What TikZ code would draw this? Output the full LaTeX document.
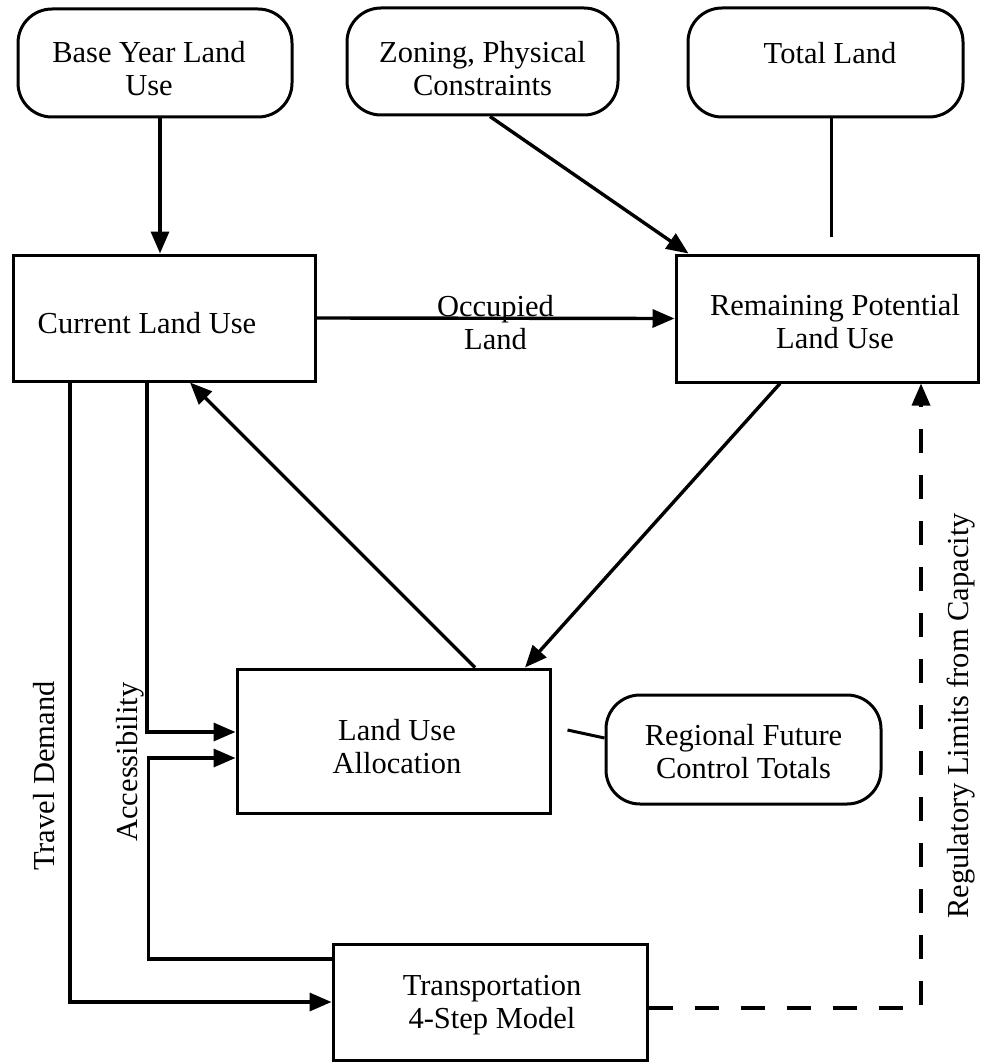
\documentclass[tikz,border=0pt]{standalone}
\usepackage{fontspec}
\setmainfont{Liberation Serif}
\usetikzlibrary{arrows.meta}
\begin{document}
\begin{tikzpicture}[x=1pt,y=-1pt,
  every node/.style={font=\fontsize{30.5}{33}\selectfont, align=center},
  rbox/.style={draw, line width=3pt, rounded corners=34pt, inner sep=0pt},
  sbox/.style={draw, line width=3pt, inner sep=0pt},
  arr/.style={line width=3.4pt, -{Triangle[length=22pt,width=18pt]}},
  plainline/.style={line width=3pt},
  dasharr/.style={line width=3.4pt, dash pattern=on 24pt off 22pt, -{Triangle[length=22pt,width=18pt]}},
  vlabel/.style={rotate=90, inner sep=0pt}
]
\useasboundingbox (0,0) rectangle (986,1062);

% boxes
\node[rbox, minimum width=274pt, minimum height=108pt,
  label={[xshift=-6pt,yshift=-6pt]center:{Base Year Land\\Use}}] (base) at (155,63) {};
\node[rbox, minimum width=271pt, minimum height=107pt,
  label={[xshift=0pt,yshift=-7pt]center:{Zoning, Physical\\Constraints}}] (zoning) at (482.5,61.5) {};
\node[rbox, minimum width=275pt, minimum height=109pt,
  label={[xshift=4.5pt,yshift=9.5pt]center:{Total Land}}] (total) at (825.5,62.5) {};

\node[sbox, minimum width=302pt, minimum height=126pt,
  label={[xshift=-17pt,yshift=-5pt]center:{Current Land Use}}] (current) at (164,318) {};
\node[sbox, minimum width=302pt, minimum height=127pt,
  label={[xshift=8pt,yshift=-3.5pt]center:{Remaining Potential\\Land Use}}] (remain) at (827,318.5) {};

\node[sbox, minimum width=313pt, minimum height=144pt,
  label={[xshift=3.5pt,yshift=-6pt]center:{Land Use\\Allocation}}] (lua) at (393.5,741) {};
\node[rbox, minimum width=275pt, minimum height=109pt,
  label={[xshift=0pt,yshift=-2.5pt]center:{Regional Future\\Control Totals}}] (regional) at (743.5,749.5) {};

\node[sbox, minimum width=314pt, minimum height=116pt,
  label={[xshift=2pt,yshift=-3pt]center:{Transportation\\4-Step Model}}] (transp) at (490,1002) {};

% rotated labels
\node[vlabel] (tdlabel) at (44,776) {Travel Demand};
\node[vlabel] (acclabel) at (130,762) {Accessibility};
\node[vlabel] (reglabel) at (961,716) {Regulatory Limits from Capacity};

% connectors
\draw[arr] ([xshift=5pt]base.south) -- ([xshift=-4pt]current.north);
\draw[arr] ([xshift=7.5pt]zoning.south) -- ([xshift=14pt]remain.north west);
\coordinate (totalend) at (831,237);
\draw[plainline] ([xshift=5.5pt]total.south) -- (totalend);

\draw[arr] (current.east) -- node[yshift=-4pt, inner sep=0pt] (occ) {Occupied\\Land} (remain.west);

\draw[arr] ([xshift=81.5pt]lua.north) -- ([xshift=26pt]current.south);
\draw[arr] ([xshift=-47pt]remain.south) -- ([xshift=131.5pt]lua.north);

\draw[arr] ([xshift=-17pt]current.south) |- ([yshift=9pt]lua.west);
\draw[arr] ([yshift=43pt]transp.west) -- ++(-183,0) |- ([yshift=-17pt]lua.west);
\draw[arr] ([xshift=-94pt]current.south) |- (transp.west);

\draw[plainline] ([xshift=16pt,yshift=11pt]lua.east) -- ([yshift=11.5pt]regional.west);

\draw[dasharr] ([yshift=-6pt]transp.east) -| ([xshift=94pt]remain.south);
\end{tikzpicture}
\end{document}
